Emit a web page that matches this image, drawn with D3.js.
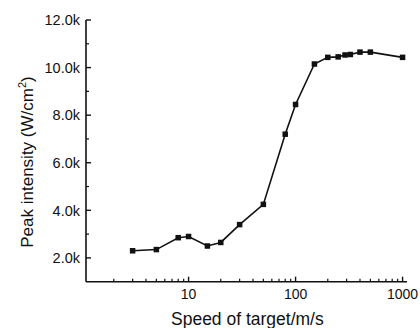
<!DOCTYPE html>
<html>
<head>
<meta charset="utf-8">
<script src="https://cdn.jsdelivr.net/npm/d3@7"></script>
<style>
  html, body { margin: 0; padding: 0; background: #fff; }
  svg { display: block; }
  text { font-family: "Liberation Sans", Arial, sans-serif; fill: #111; }
</style>
</head>
<body>
<svg id="chart" width="420" height="328"></svg>
<script>
// Target speed (m/s) and measured peak intensity (W/cm^2)
const speeds = [3, 5, 8, 10, 15, 20, 30, 50, 80, 100, 150, 200, 250, 290, 325, 400, 500, 1000];
const intensity = [2300, 2350, 2850, 2900, 2500, 2650, 3400, 4250, 7200, 8450, 10150, 10430, 10450, 10530, 10550, 10650, 10650, 10430];

const xMajorTicks = [10, 100, 1000];
const yMajorTicks = [2000, 4000, 6000, 8000, 10000, 12000];
const yMinorTicks = [3000, 5000, 7000, 9000, 11000];
const xTitle = "Speed of target/m/s";

const svg = d3.select("#chart");
const plotLeft = 86, plotRight = 407, plotTop = 20, plotBottom = 281.7;

const x = d3.scaleLog().domain([1.1, 1100]).range([plotLeft, plotRight]);
const y = d3.scaleLinear().domain([1000, 12000]).range([plotBottom, plotTop]);

const xMinorTicks = [];
[1, 10, 100].forEach(d => { for (let k = 2; k <= 9; k++) xMinorTicks.push(d * k); });

const fmtK = d => (d / 1000).toFixed(1) + "k";

// axis lines
svg.append("line").attr("x1", plotLeft).attr("x2", plotLeft).attr("y1", plotTop).attr("y2", plotBottom)
  .attr("stroke", "#111").attr("stroke-width", 1.6);
svg.append("line").attr("x1", plotLeft).attr("x2", plotRight).attr("y1", plotBottom).attr("y2", plotBottom)
  .attr("stroke", "#111").attr("stroke-width", 1.6);

// ticks point inward
const gx = svg.append("g").attr("transform", `translate(0,${plotBottom})`);
gx.selectAll("line.minor").data(xMinorTicks.filter(d => x(d) > plotLeft && x(d) < plotRight)).join("line")
  .attr("class", "minor")
  .attr("x1", d => x(d)).attr("x2", d => x(d)).attr("y1", 0).attr("y2", -3)
  .attr("stroke", "#111").attr("stroke-width", 1.2);
gx.selectAll("line.major").data(xMajorTicks).join("line")
  .attr("class", "major")
  .attr("x1", d => x(d)).attr("x2", d => x(d)).attr("y1", 0).attr("y2", -5)
  .attr("stroke", "#111").attr("stroke-width", 1.4);
gx.selectAll("text").data(xMajorTicks).join("text")
  .attr("x", d => x(d)).attr("y", 17).attr("text-anchor", "middle")
  .style("font-size", "14px").text(d => d);

const gy = svg.append("g").attr("transform", `translate(${plotLeft},0)`);
gy.selectAll("line.minor").data(yMinorTicks).join("line")
  .attr("class", "minor")
  .attr("x1", 0).attr("x2", 3).attr("y1", d => y(d)).attr("y2", d => y(d))
  .attr("stroke", "#111").attr("stroke-width", 1.2);
gy.selectAll("line.major").data(yMajorTicks).join("line")
  .attr("class", "major")
  .attr("x1", 0).attr("x2", 5).attr("y1", d => y(d)).attr("y2", d => y(d))
  .attr("stroke", "#111").attr("stroke-width", 1.4);
gy.selectAll("text").data(yMajorTicks).join("text")
  .attr("x", -6).attr("y", d => y(d)).attr("dy", "0.36em").attr("text-anchor", "end")
  .style("font-size", "14.5px").text(fmtK);

// series line and square markers
const line = d3.line().x((d, i) => x(speeds[i])).y(d => y(d));
svg.append("path").datum(intensity).attr("d", line)
  .attr("fill", "none").attr("stroke", "#111").attr("stroke-width", 1.6);
const ms = 5.5;
svg.selectAll("rect.pt").data(intensity).join("rect")
  .attr("class", "pt")
  .attr("x", (d, i) => x(speeds[i]) - ms / 2).attr("y", d => y(d) - ms / 2)
  .attr("width", ms).attr("height", ms).attr("fill", "#111");

// axis titles
svg.append("text").attr("x", 171).attr("y", 325)
  .attr("text-anchor", "start").style("font-size", "17.5px").text(xTitle);

const yt = svg.append("text").attr("transform", "translate(33,162) rotate(-90)")
  .attr("text-anchor", "middle").style("font-size", "17px");
yt.append("tspan").text("Peak intensity (W/cm");
yt.append("tspan").attr("dy", -7).style("font-size", "11px").text("2");
yt.append("tspan").attr("dy", 7).text(")");
</script>
</body>
</html>
